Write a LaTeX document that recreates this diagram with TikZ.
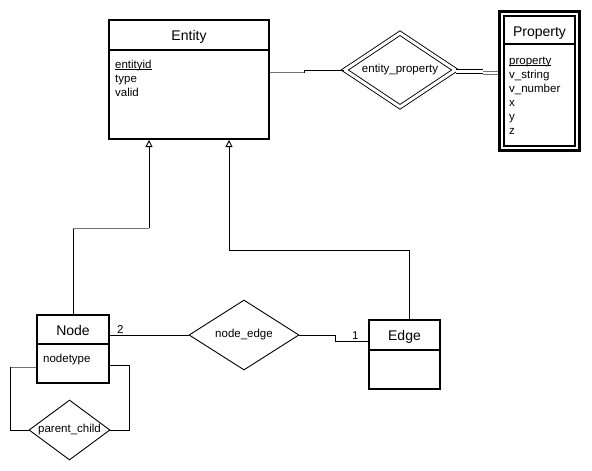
\documentclass[tikz,border=0pt]{standalone}
\usepackage{fontspec}
\setmainfont{Liberation Sans}
\usetikzlibrary{positioning, shapes.geometric, arrows.meta}

\newcommand{\keyattr}[1]{\underline{\smash{#1}}}

\begin{document}
\begin{tikzpicture}[x=1pt, y=-1pt,
    box/.style={draw, line width=2pt, inner sep=0pt},
    title/.style={font=\fontsize{14}{16}\selectfont, inner sep=0pt, anchor=base},
    attr/.style={font=\fontsize{11.5}{13}\selectfont, inner sep=0pt, anchor=base west},
    rel/.style={draw, diamond, inner sep=0pt, line width=0.9pt, font=\fontsize{11.5}{13}\selectfont},
    link/.style={line width=0.9pt},
    faint/.style={link, draw=black!55},
    isa/.style={link, -{Triangle[open, length=7pt, width=7pt]}}]
  \useasboundingbox (0,0) rectangle (592,471);
  % Entity
  \node[box, minimum width=160pt, minimum height=119pt] (entity) at (189,79.5) {};
  \draw[line width=2pt] (entity.west |- 0,50) -- (entity.east |- 0,50);
  \node[title] (entity-t) at ([yshift=-21pt]entity.north) {Entity};
  \foreach \a [count=\i] in {\keyattr{entityid}, type, valid}
    \node[attr] (entity-a\i) at (115, 54+14*\i) {\a};
  % Property (weak entity)
  \node[box, line width=2.6pt, minimum width=80.4pt, minimum height=139.4pt] (prop-outer) at (539.5,81) {};
  \node[box, line width=1.8pt, minimum width=71.2pt, minimum height=130.2pt] (prop) at (539.5,81) {};
  \draw[line width=1.8pt] (prop.west |- 0,44) -- (prop.east |- 0,44);
  \node[title] (prop-t) at ([yshift=-21pt]prop.north) {Property};
  \foreach \a [count=\i] in {\keyattr{property}, v\_string, v\_number, x, y, z}
    \node[attr] (prop-a\i) at (509, 50+14*\i) {\a};
  % Node
  \node[box, minimum width=72pt, minimum height=68pt] (nodebox) at (73,349) {};
  \draw[line width=2pt] (nodebox.west |- 0,344) -- (nodebox.east |- 0,344);
  \node[title] (nodebox-t) at ([yshift=-21pt]nodebox.north) {Node};
  \node[attr] (nodebox-a1) at (43,362) {nodetype};
  % Edge
  \node[box, minimum width=71pt, minimum height=69pt] (edgebox) at (404.5,354.5) {};
  \draw[line width=2pt] (edgebox.west |- 0,350) -- (edgebox.east |- 0,350);
  \node[title] (edgebox-t) at ([yshift=-21pt]edgebox.north) {Edge};
  % Relationships
  \node[rel, double, double distance=3pt, aspect=1.5, minimum width=111pt, minimum height=74pt] (eprop) at (400,70) {entity\_property};
  \node[rel, aspect=1.57, minimum width=110pt, minimum height=70pt] (nedge) at (244,335) {node\_edge};
  \node[rel, aspect=1.35, minimum width=81pt, minimum height=60pt] (pchild) at (69.5,430) {parent\_child};
  % Entity -- entity_property
  \coordinate (ep-jog) at (304,72.5);
  \draw[faint] (entity.east |- ep-jog) -- (ep-jog);
  \draw[link] (ep-jog) -- (ep-jog |- eprop.west) -- (eprop.west);
  % entity_property == Property
  \coordinate (pp-jog) at (483,71.5);
  \coordinate (pp-jog2) at (483,73);
  \draw[link, double, double distance=2.3pt] (eprop.east |- pp-jog) -- (pp-jog);
  \draw[faint, double, double distance=2.3pt] (pp-jog2) -- (prop-outer.west |- pp-jog2);
  % Node -- node_edge -- Edge
  \draw[link] (nodebox.east |- nedge.west) -- (nedge.west);
  \node[attr] (card-n) at (117,333) {2};
  \coordinate (ne-jog) at (335,335);
  \draw[link] (nedge.east) -- (ne-jog) -- (ne-jog |- 0,341) -- (edgebox.west |- 0,341);
  \node[attr] (card-e) at (352,339) {1};
  % parent_child loop
  \coordinate (pc-l) at (10,367);
  \coordinate (pc-r) at (129,365);
  \draw[faint] (nodebox.west |- pc-l) -- (pc-l);
  \draw[link] (pc-l) |- (pchild.west);
  \draw[link] (nodebox.east |- pc-r) -- (pc-r) |- (pchild.east);
  % Inheritance
  \coordinate (isa-n) at (149,228);
  \draw[link] (nodebox.north) -- (nodebox.north |- isa-n);
  \draw[faint] (nodebox.north |- isa-n) -- (isa-n);
  \draw[isa] (isa-n) -- (entity.south -| isa-n);
  \coordinate (isa-e) at (229,250);
  \draw[isa] ([xshift=4.5pt]edgebox.north) |- (isa-e) -- (entity.south -| isa-e);
\end{tikzpicture}
\end{document}
